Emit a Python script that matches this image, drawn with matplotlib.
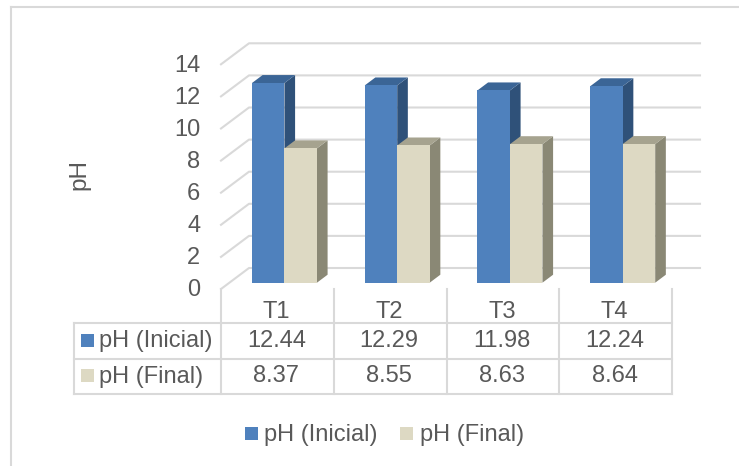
import matplotlib
matplotlib.use("Agg")
import matplotlib.pyplot as plt
from matplotlib.patches import Polygon, Rectangle
from matplotlib.transforms import ScaledTranslation

categories = ["T1", "T2", "T3", "T4"]
ph_inicial = [12.44, 12.29, 11.98, 12.24]
ph_final = [8.37, 8.55, 8.63, 8.64]
y_ticks = [0, 2, 4, 6, 8, 10, 12, 14]
series_names = ["pH (Inicial)", "pH (Final)"]

W, H = 739, 466
TEXT = "#595959"
GRID = "#D9D9D9"
FONT = 17
plt.rcParams["font.family"] = ["Liberation Sans", "DejaVu Sans"]

fig = plt.figure(figsize=(W / 100, H / 100), dpi=100)

# Canvas-wide overlay in pixel units, used for the table and legend
bg = fig.add_axes([0, 0, 1, 1])
bg.set_xlim(0, W)
bg.set_ylim(H, 0)
bg.axis("off")

# Plot axes: one x unit is one category, y is the pH value on the front plane
CAT_PX = 112.75
UNIT_PX = 16.05
LEFT, RIGHT, BASE, TOP = 221, 700, 289, 43
ax = fig.add_axes([LEFT / W, 1 - BASE / H, (RIGHT - LEFT) / W, (BASE - TOP) / H])
ax.set_xlim(0, (RIGHT - LEFT) / CAT_PX)
ax.set_ylim(0, (BASE - TOP) / UNIT_PX)
ax.patch.set_alpha(0)
for s in ax.spines.values():
    s.set_visible(False)
ax.set_xticks([])
ax.set_yticks(y_ticks)
ax.tick_params(axis="y", length=0, labelsize=FONT, labelcolor=TEXT, pad=15)
nudge = ScaledTranslation(0, 1 / 100, fig.dpi_scale_trans)
for label in ax.get_yticklabels():
    label.set_transform(label.get_transform() + nudge)
ax.set_ylabel("pH", fontsize=17.5, color=TEXT)
ax.yaxis.set_label_coords((90 - LEFT) / (RIGHT - LEFT), (BASE - 174) / (BASE - TOP))

# Oblique depth of the chart box, in data units
DEPTH_X = 28 / CAT_PX
DEPTH_Y = 21 / UNIT_PX
back_x = ax.get_xlim()[1]


def project(x, y, d):
    return (x + d * DEPTH_X, y + d * DEPTH_Y)


for v in y_ticks:
    ax.plot(*zip(project(0, v, 0), project(0, v, 1), (back_x, v + DEPTH_Y)),
            color=GRID, lw=1.5, clip_on=False, zorder=1)

BAR_W = 32.5 / CAT_PX
BAR_X0 = 0.2
D_FRONT, D_BACK = 0.3, 0.68
STYLES = [
    ("#4F81BD", "#3B6596", "#2F5179"),
    ("#DDD9C3", "#A6A38F", "#8A8875"),
]


def draw_bar(x, v, faces, z):
    front, top, side = faces
    x2 = x + BAR_W
    quad_side = [project(x2, 0, D_FRONT), project(x2, 0, D_BACK),
                 project(x2, v, D_BACK), project(x2, v, D_FRONT)]
    quad_top = [project(x, v, D_FRONT), project(x2, v, D_FRONT),
                project(x2, v, D_BACK), project(x, v, D_BACK)]
    quad_front = [project(x, 0, D_FRONT), project(x2, 0, D_FRONT),
                  project(x2, v, D_FRONT), project(x, v, D_FRONT)]
    ax.add_patch(Polygon(quad_side, fc=side, ec="none", zorder=z))
    ax.add_patch(Polygon(quad_top, fc=top, ec="none", zorder=z))
    ax.add_patch(Polygon(quad_front, fc=front, ec="none", zorder=z + 0.1))


for i in range(len(categories)):
    draw_bar(i + BAR_X0, ph_inicial[i], STYLES[0], 3)
    draw_bar(i + BAR_X0 + BAR_W, ph_final[i], STYLES[1], 4)

# Data table beneath the plot
COLS = [LEFT + CAT_PX * i for i in range(len(categories) + 1)]
TBL_L, ROW0, ROW1, ROW2, ROW3 = 74, 289, 323, 359, 394
line = dict(color=GRID, lw=1.5, solid_capstyle="projecting")
for x in COLS:
    bg.plot([x, x], [ROW0, ROW3], **line)
bg.plot([TBL_L, TBL_L], [ROW1, ROW3], **line)
for y in (ROW1, ROW2, ROW3):
    bg.plot([TBL_L, COLS[-1]], [y, y], **line)

for i, name in enumerate(categories):
    bg.text((COLS[i] + COLS[i + 1]) / 2 - 1, (ROW0 + ROW1) / 2 + 6.5, name, fontsize=FONT,
            color=TEXT, ha="center", va="center")
for row, (vals, name, faces) in enumerate(zip((ph_inicial, ph_final), series_names, STYLES)):
    yc = 341 + row * 35.5
    swatch_y = 334 + row * 35
    bg.add_patch(Rectangle((81, swatch_y), 13, 13, fc=faces[0], ec="none"))
    bg.text(99, yc, name, fontsize=FONT, color=TEXT, ha="left", va="center")
    for i, v in enumerate(vals):
        bg.text((COLS[i] + COLS[i + 1]) / 2 - 1, yc, f"{v:.2f}", fontsize=FONT,
                color=TEXT, ha="center", va="center")

# Legend row at the bottom
for x_box, x_txt, name, faces in zip((245, 400), (264, 420), series_names, STYLES):
    bg.add_patch(Rectangle((x_box, 427), 13, 13, fc=faces[0], ec="none"))
    bg.text(x_txt, 434.5, name, fontsize=FONT, color=TEXT, ha="left", va="center")

# Chart frame
bg.plot([11, 11], [7, H], color=GRID, lw=1.5)
bg.plot([11, W], [7, 7], color=GRID, lw=1.5)

fig.savefig("out.png", dpi=100)
